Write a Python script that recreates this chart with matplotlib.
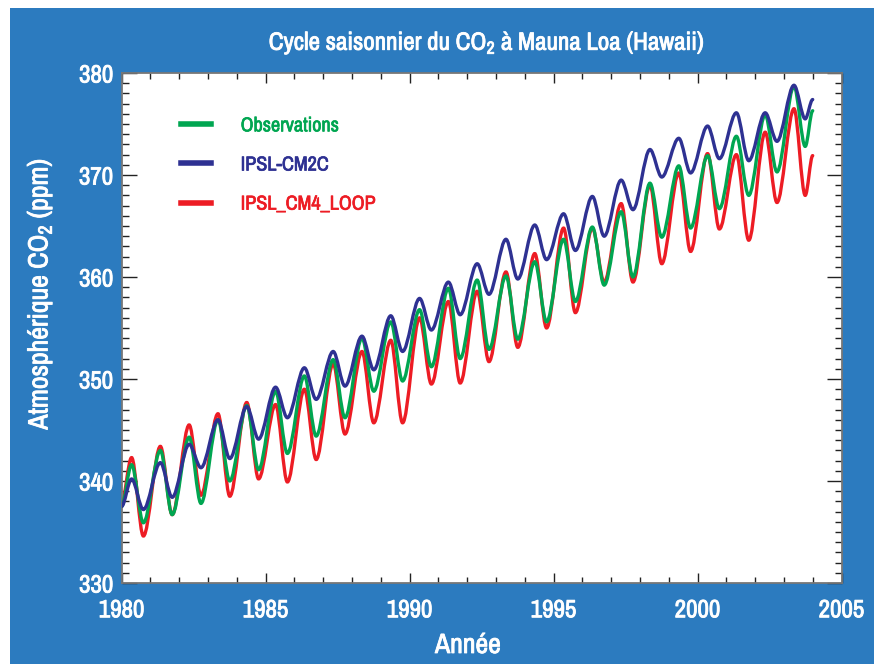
import matplotlib
matplotlib.use("Agg")
import matplotlib.pyplot as plt
import matplotlib.patheffects as pe
from matplotlib.path import Path
from matplotlib.patches import PathPatch, Rectangle
from matplotlib.lines import Line2D
from matplotlib.ticker import MultipleLocator

# ---- data: seasonal extremes (spring maximum / autumn minimum), ppm ----
node_years = [
    1980.00,
    1980.35, 1980.76, 1981.35, 1981.76, 1982.35, 1982.76, 1983.35, 1983.76,
    1984.35, 1984.76, 1985.35, 1985.76, 1986.35, 1986.76, 1987.35, 1987.76,
    1988.35, 1988.76, 1989.35, 1989.76, 1990.35, 1990.76, 1991.35, 1991.76,
    1992.35, 1992.76, 1993.35, 1993.76, 1994.35, 1994.76, 1995.35, 1995.76,
    1996.35, 1996.76, 1997.35, 1997.76, 1998.35, 1998.76, 1999.35, 1999.76,
    2000.35, 2000.76, 2001.35, 2001.78, 2002.35, 2002.76, 2003.35, 2003.74,
    2004.00,
]

observations = [
    337.5,
    341.6, 335.9, 343.0, 336.7, 344.3, 337.8, 346.0, 340.0,
    347.4, 341.1, 348.8, 342.7, 350.3, 344.4, 351.9, 346.2,
    354.0, 348.8, 355.6, 349.8, 356.8, 351.2, 358.9, 352.0,
    359.7, 352.9, 360.1, 353.9, 361.5, 355.6, 363.7, 357.6,
    364.9, 359.2, 366.4, 360.0, 369.2, 363.9, 370.9, 364.8,
    371.9, 366.7, 373.8, 368.0, 375.9, 370.3, 378.7, 372.8,
    376.3,
]

ipsl_cm2c = [
    337.5,
    340.2, 337.2, 341.8, 338.4, 343.6, 341.3, 346.0, 342.2,
    347.3, 344.1, 349.2, 346.2, 351.1, 348.0, 352.7, 349.3,
    354.2, 350.9, 356.2, 352.7, 357.9, 354.8, 359.5, 356.3,
    361.3, 358.3, 363.7, 359.8, 365.1, 361.7, 366.2, 362.6,
    367.9, 364.0, 369.5, 366.6, 372.5, 369.8, 373.6, 370.2,
    374.8, 371.6, 376.1, 371.4, 376.1, 373.3, 378.8, 375.5,
    377.4,
]

ipsl_cm4_loop = [
    337.8,
    342.3, 334.6, 343.4, 336.7, 345.5, 338.6, 346.6, 338.5,
    347.7, 340.2, 347.5, 339.9, 349.0, 342.1, 351.5, 344.6,
    352.7, 345.7, 353.8, 345.7, 356.0, 349.5, 357.6, 349.6,
    358.6, 351.7, 360.5, 353.1, 362.3, 355.0, 364.8, 356.5,
    364.8, 359.5, 367.2, 359.5, 369.0, 361.3, 370.2, 362.5,
    372.1, 364.7, 372.0, 363.6, 374.2, 367.3, 376.5, 368.0,
    371.9,
]

series_labels = ["Observations", "IPSL-CM2C", "IPSL_CM4_LOOP"]
x_ticks = [1980, 1985, 1990, 1995, 2000, 2005]
y_ticks = [330, 340, 350, 360, 370, 380]

# ---- style ----
BG = "#2c7bbf"
GREEN = "#00a651"
BLUE = "#2e3192"
RED = "#ed1c24"
NARROW = "Archivo Narrow"
FONT = [NARROW, "DejaVu Sans"]

plt.rcParams["font.family"] = FONT
plt.rcParams["mathtext.fontset"] = "custom"
plt.rcParams["mathtext.rm"] = NARROW
plt.rcParams["mathtext.it"] = NARROW
plt.rcParams["mathtext.bf"] = NARROW + ":bold"


def heavier(text, width=0.6):
    """Thicken a text's strokes with an outline in its own colour."""
    text.set_path_effects([pe.withStroke(linewidth=width,
                                         foreground=text.get_color())])


def smooth_curve(xs, ys):
    """Cubic Bezier path through the extremes with flat tangents at each node."""
    verts = [(xs[0], ys[0])]
    codes = [Path.MOVETO]
    for i in range(1, len(xs)):
        x0, y0 = xs[i - 1], ys[i - 1]
        x1, y1 = xs[i], ys[i]
        dx = (x1 - x0) / 3.0
        verts += [(x0 + dx, y0), (x1 - dx, y1), (x1, y1)]
        codes += [Path.CURVE4] * 3
    return Path(verts, codes)


fig = plt.figure(figsize=(8.74, 6.64), dpi=100, facecolor="white")
fig.patches.append(Rectangle((9.5 / 874, 0), 1, (664 - 8) / 664,
                             transform=fig.transFigure, facecolor=BG,
                             edgecolor="none", zorder=-10))

ax = fig.add_axes([121.5 / 874, (664 - 583) / 664, 720 / 874, 510 / 664])
ax.set_facecolor("white")

for values, color, z in [(ipsl_cm4_loop, RED, 2), (observations, GREEN, 3),
                         (ipsl_cm2c, BLUE, 4)]:
    ax.add_patch(PathPatch(smooth_curve(node_years, values), fill=False,
                           edgecolor=color, lw=2.4, capstyle="round",
                           joinstyle="round", zorder=z))

ax.set_xlim(1980, 2005)
ax.set_ylim(330, 380)
ax.set_xticks(x_ticks)
ax.set_yticks(y_ticks)
ax.xaxis.set_minor_locator(MultipleLocator(1))
ax.yaxis.set_minor_locator(MultipleLocator(1))

ax.tick_params(axis="both", which="both", direction="in", top=True,
               right=True, color="#222222", width=1.0)
ax.tick_params(axis="x", which="major", length=7.5, pad=11)
ax.tick_params(axis="x", which="minor", length=4.5)
ax.tick_params(axis="y", which="major", length=11, pad=6)
ax.tick_params(axis="y", which="minor", length=5)
ax.tick_params(axis="both", which="major", labelcolor="white", labelsize=18)
for lab in ax.get_xticklabels() + ax.get_yticklabels():
    heavier(lab, 0.6)
for sp in ax.spines.values():
    sp.set_color("#777777")
    sp.set_linewidth(1.3)

xl = ax.set_xlabel("Année", color="white", fontsize=20)
ax.xaxis.set_label_coords(0.481, -0.098)
yl = ax.set_ylabel("Atmosphérique CO$_2$ (ppm)", color="white", fontsize=20)
ax.yaxis.set_label_coords(-0.093, 0.567)
title = fig.text(0.557, 0.936,
                 "Cycle saisonnier du CO$_2$ à Mauna Loa (Hawaii)",
                 color="white", fontsize=18, ha="center", va="center")
for t in (xl, yl, title):
    heavier(t, 0.6)

handles = [Line2D([], [], color=c, lw=4.0) for c in (GREEN, BLUE, RED)]
leg = ax.legend(handles, series_labels, loc="upper left",
                bbox_to_anchor=(0.083, 0.915), frameon=False,
                borderpad=0, borderaxespad=0, handlelength=1.5,
                handletextpad=1.45, labelspacing=1.0,
                prop={"family": FONT, "size": 14.5},
                labelcolor=[GREEN, BLUE, RED])
for t in leg.get_texts():
    heavier(t, 0.5)

fig.savefig("out.png", dpi=100, facecolor=fig.get_facecolor())
